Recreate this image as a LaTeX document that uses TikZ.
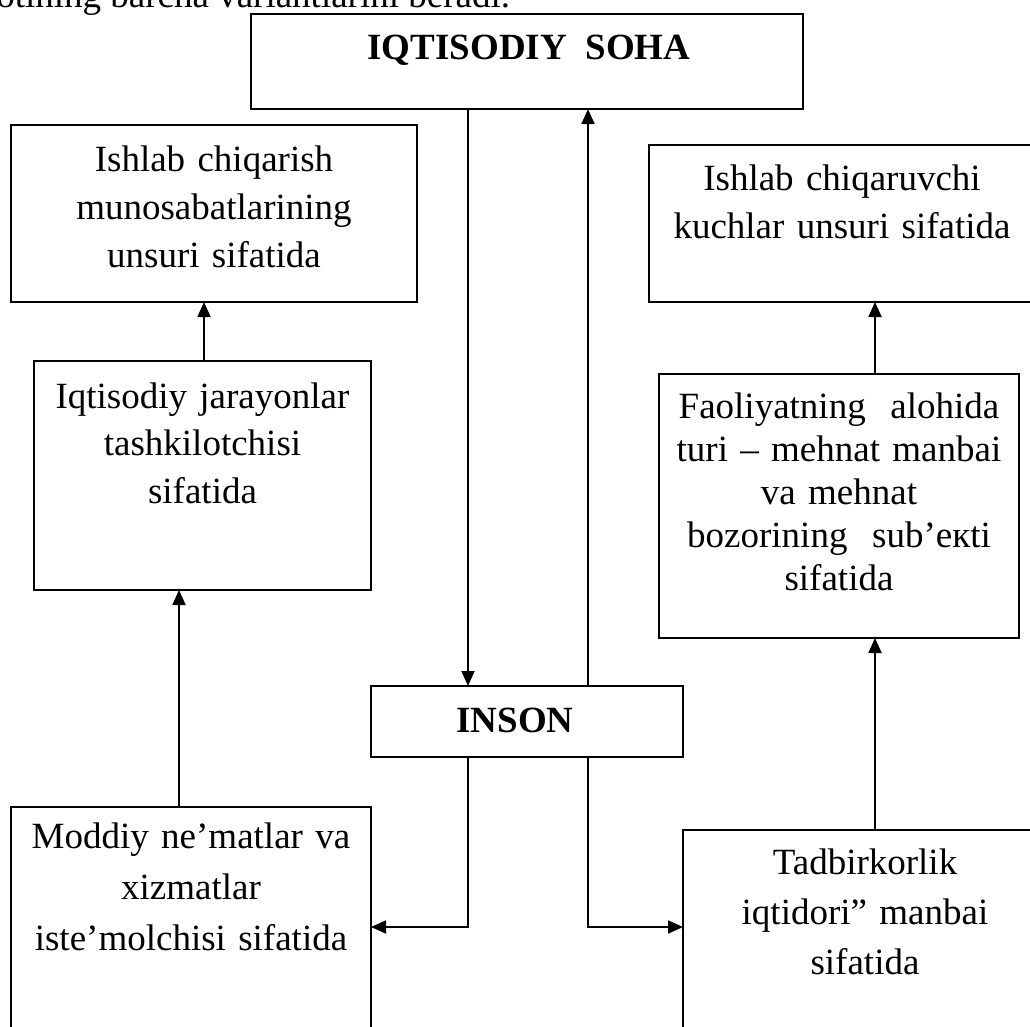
\documentclass[tikz,border=0pt]{standalone}
\usepackage{fontspec}
\setmainfont{Liberation Serif}
\usetikzlibrary{arrows.meta}

\begin{document}
\begin{tikzpicture}[x=1pt,y=-1pt,
  box/.style={draw, line width=1.8pt, rectangle, inner sep=0pt, outer sep=0pt, anchor=north west},
  lbl/.style={inner sep=0pt, outer sep=0pt, font=\fontsize{37}{46}\selectfont},
  blk/.style={inner sep=0pt, outer sep=0pt, text width=400pt, align=center, anchor=base,
              font=\fontsize{37}{#1}\selectfont},
  arr/.style={line width=1.8pt, -{Triangle[length=15pt,width=13pt]}},
]
\useasboundingbox (0,0) rectangle (1030,1026);
\clip (0,0) rectangle (1030,1026);

% sentence running into the top edge
\node[lbl, anchor=base east] (intro) at (510,7) {otining barcha variantlarini beradi.};

% boxes
\node[box, minimum width=552pt, minimum height=95pt]  (soha)   at (251,14)  {};
\node[box, minimum width=406pt, minimum height=177pt] (munos)  at (11,125)  {};
\node[box, minimum width=386pt, minimum height=157pt] (kuch)   at (649,145) {};
\node[box, minimum width=337pt, minimum height=229pt] (tashk)  at (34,361)  {};
\node[box, minimum width=360pt, minimum height=264pt] (faol)   at (659,374) {};
\node[box, minimum width=312pt, minimum height=71pt]  (inson)  at (371,686) {};
\node[box, minimum width=360pt, minimum height=260pt] (moddiy) at (11,807)  {};
\node[box, minimum width=364pt, minimum height=240pt] (tadb)   at (683,830) {};

% texts
\node[lbl, anchor=base, font=\fontsize{37}{46}\selectfont\bfseries] (sohat) at (529,59) {IQTISODIY\ \ SOHA};
\node[lbl, anchor=base, font=\fontsize{37}{46}\selectfont\bfseries] (insont) at (515,732) {INSON};
\node[blk=48] (munost) at (214,171) {Ishlab chiqarish\\munosabatlarining\\unsuri sifatida};
\node[blk=48] (kucht) at (842,190) {Ishlab chiqaruvchi\\kuchlar unsuri sifatida};
\node[blk=47.5] (tashkt) at (202.5,408) {Iqtisodiy jarayonlar\\tashkilotchisi\\sifatida};
\node[blk=43] (faolt) at (839,418) {Faoliyatning\ \ alohida\\turi – mehnat manbai\\va mehnat\\bozorining\ \ sub’екti\\sifatida};
\node[blk=51] (moddiyt) at (191,848) {Moddiy ne’matlar va\\xizmatlar\\iste’molchisi sifatida};
\node[blk=50] (tadbt) at (865,874) {Tadbirkorlik\\iqtidori” manbai\\sifatida};

% connector columns and the level of the lower branches
\coordinate (cdown) at (468,0);
\coordinate (cup) at (588,0);
\coordinate (cleft) at (179,0);
\coordinate (cleft2) at (204,0);
\coordinate (cright) at (875,0);
\coordinate (hbranch) at (0,927);

% connectors
\draw[arr] (soha.south -| cdown) -- (inson.north -| cdown);
\draw[arr] (inson.north -| cup) -- (soha.south -| cup);
\draw[arr] (inson.south -| cdown) |- (moddiy.east |- hbranch);
\draw[arr] (inson.south -| cup) |- (tadb.west |- hbranch);
\draw[arr] (moddiy.north -| cleft) -- (tashk.south -| cleft);
\draw[arr] (tashk.north -| cleft2) -- (munos.south -| cleft2);
\draw[arr] (tadb.north -| cright) -- (faol.south -| cright);
\draw[arr] (faol.north -| cright) -- (kuch.south -| cright);
\end{tikzpicture}
\end{document}
